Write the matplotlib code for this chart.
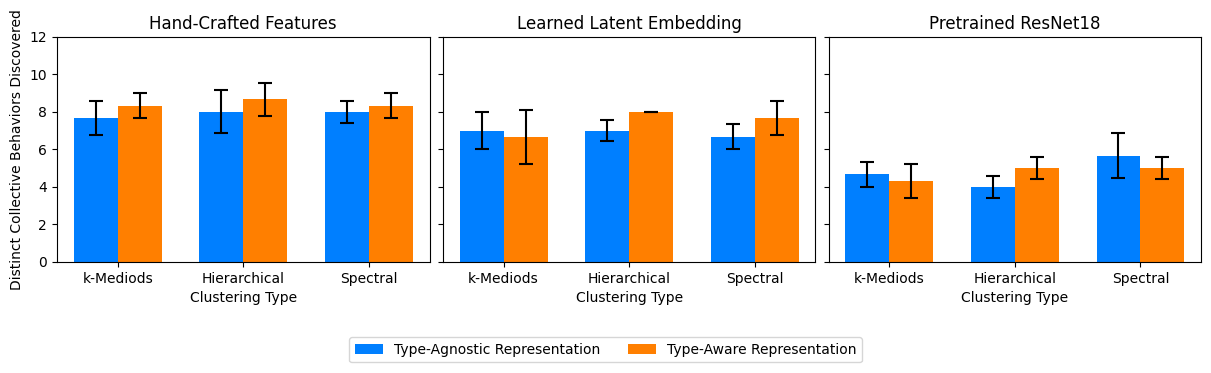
import matplotlib
matplotlib.use("Agg")
import matplotlib.pyplot as plt
import numpy as np

# clustering methods and the three representation panels
methods = ["k-Mediods", "Hierarchical", "Spectral"]
panels = ["Hand-Crafted Features", "Learned Latent Embedding", "Pretrained ResNet18"]

# mean number of behaviours discovered, per panel, per method
agnostic_mean = [[7.67, 8.0, 8.0], [7.0, 7.0, 6.67], [4.67, 4.0, 5.67]]
agnostic_err = [[0.9, 1.15, 0.6], [1.0, 0.57, 0.67], [0.67, 0.6, 1.2]]
aware_mean = [[8.33, 8.67, 8.33], [6.67, 8.0, 7.67], [4.33, 5.0, 5.0]]
aware_err = [[0.67, 0.88, 0.67], [1.45, 0.0, 0.9], [0.9, 0.57, 0.57]]

blue = "#007fff"
orange = "#ff7f00"
w = 0.35

fig, axes = plt.subplots(1, 3, figsize=(12.11, 3.73), dpi=100, sharey=True)
fig.subplots_adjust(left=0.047, right=0.992, top=0.901, bottom=0.298, wspace=0.035)

x = np.arange(len(methods))
for i, ax in enumerate(axes):
    ax.bar(x - w/2, agnostic_mean[i], w, yerr=agnostic_err[i], capsize=5,
           color=blue, label="Type-Agnostic Representation",
           error_kw=dict(elinewidth=1.5, capthick=1.5))
    ax.bar(x + w/2, aware_mean[i], w, yerr=aware_err[i], capsize=5,
           color=orange, label="Type-Aware Representation",
           error_kw=dict(elinewidth=1.5, capthick=1.5))
    ax.set_title(panels[i], fontsize=12)
    ax.set_xticks(x)
    ax.set_xticklabels(methods)
    ax.set_xlabel("Clustering Type")
    ax.set_ylim(0, 12)

axes[0].set_ylabel("Distinct Collective Behaviors Discovered")

handles, labels = axes[0].get_legend_handles_labels()
fig.legend(handles, labels, loc="center", bbox_to_anchor=(0.5, 0.062), ncol=2)

fig.savefig("out.png", dpi=100)
